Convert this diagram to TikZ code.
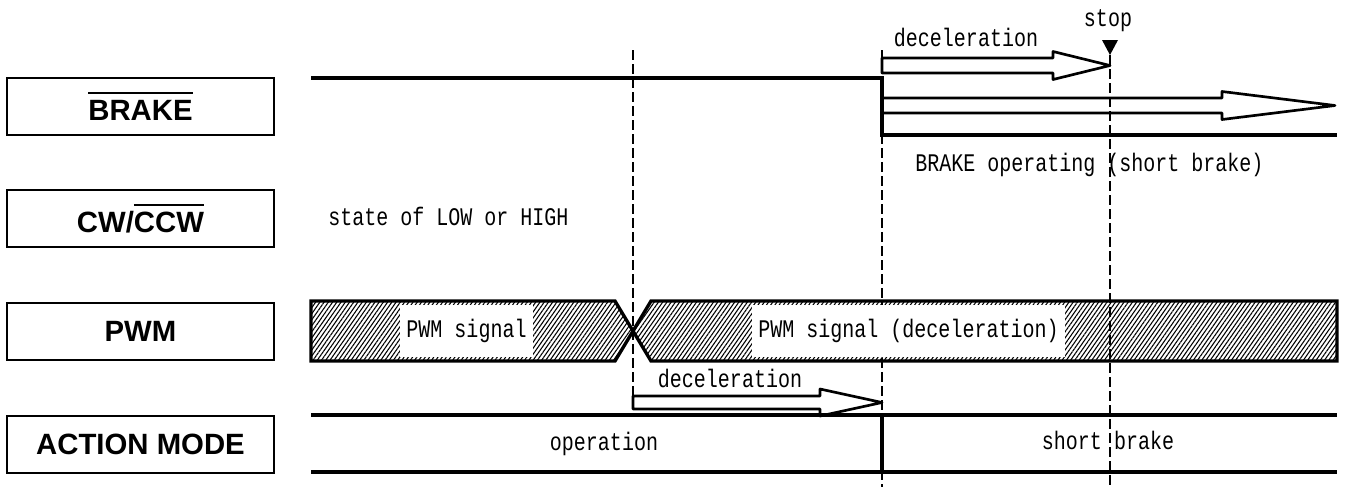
\documentclass[tikz,border=0pt]{standalone}
\usepackage{fontspec}
\usepackage{tikz}
\usetikzlibrary{patterns.meta, positioning}
\newfontfamily\boxfont{Liberation Sans}
\newfontfamily\monofont{Liberation Mono}[FakeStretch=0.79]
\newcommand{\negbar}[1]{\vbox{\hrule height 1.5pt \kern 4.5pt \hbox{#1}}}

\begin{document}
\begin{tikzpicture}[
      x=0.75pt, y=-0.75pt,
      namebox/.style={draw, line width=1.5pt, minimum width=200pt, minimum height=42.75pt, font=\boxfont\bfseries\fontsize{22}{24}\selectfont},
      note/.style={font=\monofont\fontsize{19}{22}\selectfont, inner sep=0pt},
      textgap/.style={fill=white, inner xsep=4.9pt, minimum height=39pt},
      signal/.style={line width=3pt},
      hollow/.style={line width=2pt, line join=round},
      marker/.style={line width=1.2pt, dash pattern=on 7.5pt off 3pt},
      hatched/.style={line width=2.5pt, pattern={Lines[angle=55, distance=2.6pt, line width=0.8pt]}}
    ]

    \useasboundingbox (0,0) rectangle (1347,487);

    % Signal names
    \node[namebox] (brake) at (140.5,106.5) {\negbar{BRAKE}};
    \node[namebox] (dir) at (140.5,218.5) {CW/\negbar{CCW}};
    \node[namebox] (pwm) at (140.5,331.5) {PWM};
    \node[namebox] (mode) at (140.5,444) {ACTION MODE};

    % Time marks
    \coordinate (t1) at (633,50);
    \coordinate (t2) at (882,50);
    \coordinate (t3) at (1110,55);
    \draw[marker] (t1) -- ++(0,346);
    \draw[marker] (t2) -- ++(0,437);
    \draw[marker] (t3) -- ++(0,432);

    % BRAKE
    \draw[signal] (311,78) -- (882,78) -- (882,135) -- (1337,135);
    \draw[hollow] (882,58) -- (1053,58) -- (1053,51.5) -- (1110,65.5) -- (1053,79.5) -- (1053,73) -- (882,73) -- cycle;
    \draw[hollow] (882,98) -- (1222,98) -- (1222,91.5) -- (1335,105.5) -- (1222,119.5) -- (1222,113) -- (882,113) -- cycle;
    \fill (1102,40) -- (1118,40) -- (1110,55) -- cycle;
    \node[note, anchor=base] (stop) at (1108,26) {stop};
    \node[note, anchor=base] (decel) at (966,46) {deceleration};
    \node[note, anchor=base west] (operating) at (915,171) {BRAKE operating (short brake)};

    % CW/CCW
    \node[note, anchor=base west] (state) at (328,225) {state of LOW or HIGH};

    % PWM
    \draw[hatched] (311,301) -- (615,301) -- (633,331) -- (615,361) -- (311,361) -- cycle;
    \draw[hatched] (651,301) -- (1337,301) -- (1337,361) -- (651,361) -- (633,331) -- cycle;
    \node[note, textgap] (pwmtext) at (466.5,331) {PWM signal};
    \node[note, textgap] (pwmdecel) at (908.5,331) {PWM signal (deceleration)};

    % ACTION MODE
    \draw[hollow] (633,396) -- (820,396) -- (820,389) -- (882,402.5) -- (820,416) -- (820,409) -- (633,409) -- cycle;
    \node[note, anchor=base] (decel2) at (730,387) {deceleration};
    \draw[signal] (311,415) -- (1337,415);
    \draw[signal] (311,472) -- (1337,472);
    \draw[line width=2.5pt] (882,415) -- (882,472);
    \node[note, anchor=base] (operation) at (604,450) {operation};
    \node[note, anchor=base] (short) at (1108,449) {short brake};

  \end{tikzpicture}
\end{document}
